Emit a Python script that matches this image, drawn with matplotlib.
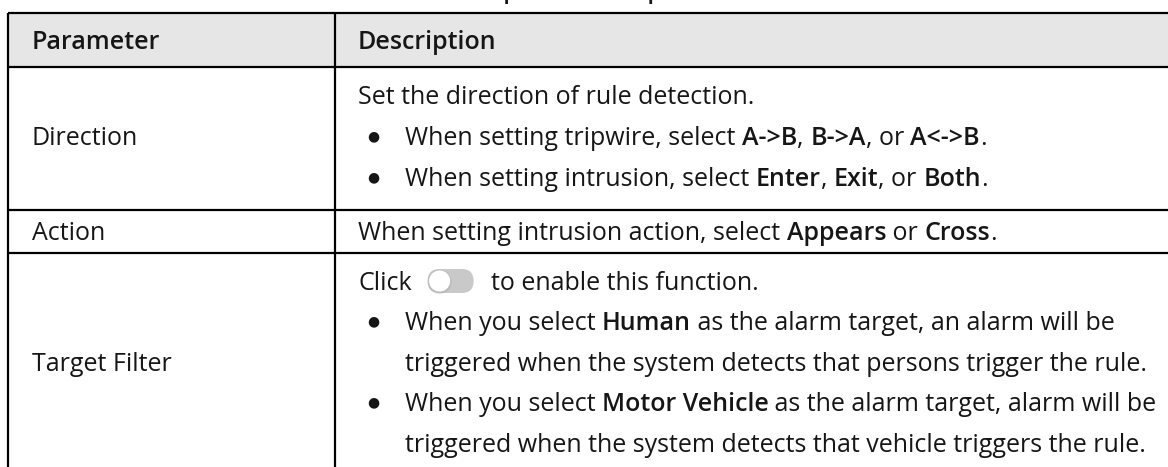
import matplotlib
matplotlib.use("Agg")
import matplotlib.pyplot as plt
from matplotlib.font_manager import FontProperties
from matplotlib.patches import FancyBboxPatch, Circle, Rectangle

FONT = "Open Sans"
FS = 18            # pt, body text
W, H = 1168, 467

# --- table content --- #
caption = "Table 5-3 Description of IVS parameters"
header = ["Parameter", "Description"]
params = ["Direction", "Action", "Target Filter"]

TOGGLE = "<toggle>"
# each line: (kind, [(text, bold), ...]); kind: plain / bullet / cont
direction_lines = [
    ("plain", [("Set the direction of rule detection.", False)]),
    ("bullet", [("When setting tripwire, select ", False), ("A->B", True), (", ", False),
                ("B->A", True), (", or ", False), ("A<->B", True), (".", False)]),
    ("bullet", [("When setting intrusion, select ", False), ("Enter", True), (", ", False),
                ("Exit", True), (", or ", False), ("Both", True), (".", False)]),
]
action_lines = [
    ("plain", [("When setting intrusion action, select ", False), ("Appears", True),
               (" or ", False), ("Cross", True), (".", False)]),
]
target_lines = [
    ("plain", [("Click", False), (TOGGLE, False), ("to enable this function.", False)]),
    ("bullet", [("When you select ", False), ("Human", True),
                (" as the alarm target, an alarm will be", False)]),
    ("cont", [("triggered when the system detects that persons trigger the rule.", False)]),
    ("bullet", [("When you select ", False), ("Motor Vehicle", True),
                (" as the alarm target, alarm will be", False)]),
    ("cont", [("triggered when the system detects that vehicle triggers the rule.", False)]),
]
desc = [direction_lines, action_lines, target_lines]

# layout (pixels from top-left)
row_lines = [13, 67, 210, 253, 472]
col_x = [8, 335]
first_line = [95, 231, 281]
line_gap = [41, 41, 40.5]
param_x = 32
desc_x = 358
bullet_x = 373
item_x = 405

fig = plt.figure(figsize=(W / 100, H / 100), dpi=100)
ax = fig.add_axes([0, 0, 1, 1])
ax.set_xlim(0, W)
ax.set_ylim(H, 0)
ax.axis("off")
r = fig.canvas.get_renderer()
TXT = "#161616"


def prop(bold):
    return FontProperties(family=FONT, size=FS, weight="semibold" if bold else "normal")


def tw(s, bold):
    # width incl. leading/trailing spaces
    p = prop(bold)
    w1, _, _ = r.get_text_width_height_descent("x" + s + "x", p, ismath=False)
    w0, _, _ = r.get_text_width_height_descent("xx", p, ismath=False)
    return w1 - w0


fpx = FS * 100 / 72
base_off = 0.357 * fpx


def draw_toggle(x, yc):
    tw_, th = 46, 24
    pill = FancyBboxPatch((x, yc - th / 2), tw_, th,
                          boxstyle=f"round,pad=0,rounding_size={th/2}",
                          fc="#c9c9c9", ec="none")
    ax.add_patch(pill)
    ax.add_patch(Circle((x + th / 2, yc + 0.8), th / 2, fc="#9a9a9a", ec="none",
                        alpha=0.35, zorder=3))
    ax.add_patch(Circle((x + th / 2, yc), th / 2 - 1, fc="white", ec="#bdbdbd",
                        lw=0.6, zorder=4))
    return tw_


def draw_segments(x, yc, segs):
    for s, b in segs:
        if s == TOGGLE:
            x += 16
            x += draw_toggle(x, yc)
            x += 17
            continue
        ax.text(x, yc + base_off, s, fontproperties=prop(b), color=TXT,
                ha="left", va="baseline")
        x += tw(s, b)


# header fill
ax.add_patch(Rectangle((col_x[0], row_lines[0]), W - col_x[0], row_lines[1] - row_lines[0],
                       fc="#e6e6e6", ec="none", zorder=0))

# caption, cut off at the top
cx = 503 - tw("Table 5-3 Descri", True)
ax.text(cx, -2, caption, fontproperties=prop(True), ha="left", va="baseline", color=TXT)

# header text
hy = (row_lines[0] + row_lines[1]) / 2
ax.text(param_x, hy + base_off, header[0], fontproperties=prop(True),
        ha="left", va="baseline", color=TXT)
ax.text(desc_x, hy + base_off, header[1], fontproperties=prop(True),
        ha="left", va="baseline", color=TXT)

for i, lines in enumerate(desc):
    ys = [first_line[i] + k * line_gap[i] for k in range(len(lines))]
    ymid = (ys[0] + ys[-1]) / 2
    ax.text(param_x, ymid + base_off, params[i], fontproperties=prop(False),
            ha="left", va="baseline", color=TXT)
    for (kind, segs), y in zip(lines, ys):
        x = desc_x
        if kind == "bullet":
            ax.text(bullet_x, y, "\u25cf", family="DejaVu Sans", fontsize=10,
                    ha="center", va="center", color=TXT)
        if kind in ("bullet", "cont"):
            x = item_x
        draw_segments(x, y, segs)

# borders
lw = 1.6
for y in row_lines:
    ax.plot([col_x[0], W], [y, y], color="black", lw=lw, solid_capstyle="butt")
for x in col_x:
    ax.plot([x, x], [row_lines[0], row_lines[-1]], color="black", lw=lw, solid_capstyle="butt")

fig.savefig("out.png", dpi=100)
